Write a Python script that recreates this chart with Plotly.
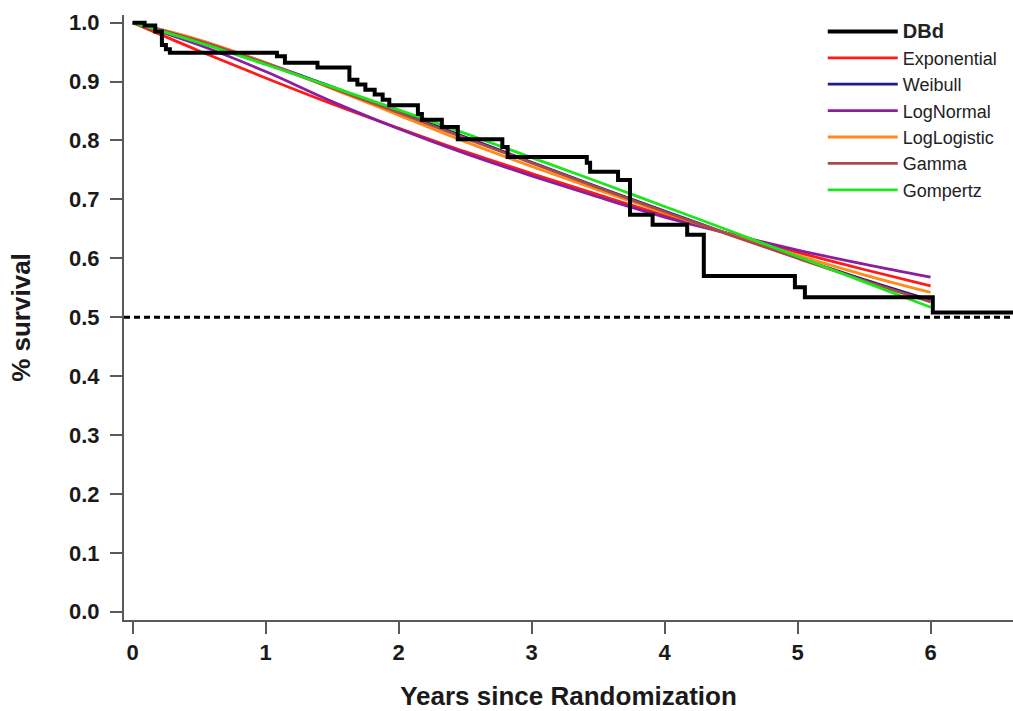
import plotly.graph_objects as go

# Kaplan-Meier (DBd) step curve
km_t = [0, 0.09, 0.17, 0.22, 0.25, 0.28, 1.085, 1.145, 1.39, 1.63, 1.69, 1.75, 1.82, 1.88,
        1.93, 2.145, 2.175, 2.325, 2.445, 2.78, 2.82, 3.415, 3.44, 3.65, 3.74, 3.91, 4.17,
        4.295, 4.98, 5.055, 6.017, 6.62]
km_s = [1.0, 0.995, 0.985, 0.962, 0.955, 0.949, 0.943, 0.932, 0.924, 0.903, 0.895, 0.886,
        0.878, 0.869, 0.860, 0.845, 0.835, 0.823, 0.802, 0.789, 0.772, 0.762, 0.747, 0.733,
        0.674, 0.657, 0.640, 0.570, 0.551, 0.534, 0.508, 0.508]

# Parametric fits, read at half-year points
fit_t = [0, 0.5, 1, 1.5, 2, 2.5, 3, 3.5, 4, 4.5, 5, 5.5, 6]
exponential = [1, 0.952, 0.906, 0.862, 0.821, 0.781, 0.744, 0.708, 0.673, 0.641, 0.610, 0.581, 0.553]
weibull = [1, 0.970, 0.932, 0.891, 0.849, 0.806, 0.763, 0.721, 0.680, 0.640, 0.601, 0.564, 0.529]
lognormal = [1, 0.962, 0.917, 0.866, 0.820, 0.778, 0.740, 0.704, 0.670, 0.641, 0.614, 0.590, 0.568]
loglogistic = [1, 0.971, 0.932, 0.888, 0.843, 0.798, 0.756, 0.716, 0.677, 0.640, 0.605, 0.572, 0.542]
gamma = [1, 0.969, 0.931, 0.889, 0.847, 0.804, 0.762, 0.720, 0.679, 0.639, 0.600, 0.562, 0.526]
gompertz = [1, 0.966, 0.929, 0.891, 0.852, 0.812, 0.771, 0.730, 0.688, 0.646, 0.603, 0.560, 0.517]

fit_names = ["Exponential", "Weibull", "LogNormal", "LogLogistic", "Gamma", "Gompertz"]
fit_values = [exponential, weibull, lognormal, loglogistic, gamma, gompertz]
fit_colors = ["#ff1a1a", "#1c1c8a", "#8a1e9e", "#ff8c1a", "#a84a48", "#1ee61e"]

ref_t = [-0.065, 6.62]
ref_s = [0.5, 0.5]

FONT = "Arial, Liberation Sans, sans-serif"

fig = go.Figure()

fig.add_trace(go.Scatter(x=ref_t, y=ref_s, mode="lines", showlegend=False,
                         line=dict(color="black", width=3, dash="6px,4px"), hoverinfo="skip"))

for i, (name, vals, col) in enumerate(zip(fit_names, fit_values, fit_colors)):
    fig.add_trace(go.Scatter(x=fit_t, y=vals, mode="lines", name=name,
                             line=dict(color=col, width=2.8, shape="spline"),
                             legendrank=i + 2))

fig.add_trace(go.Scatter(x=km_t, y=km_s, mode="lines",
                         name="<b><span style='font-size:20px'>DBd</span></b>",
                         line=dict(color="black", width=4, shape="hv"),
                         legendrank=1))

axis_common = dict(showline=True, linecolor="#5a5a5a", linewidth=2, ticks="outside",
                   tickcolor="#5a5a5a", tickwidth=2, ticklen=12, showgrid=False,
                   zeroline=False, automargin=False,
                   tickfont=dict(family=FONT, size=22, color="#1a1a1a", weight="bold"))

fig.update_layout(
    width=1013, height=711,
    margin=dict(l=124, r=0, t=15, b=91, autoexpand=False),
    paper_bgcolor="white", plot_bgcolor="white",
    font=dict(family=FONT, color="#1a1a1a"),
    xaxis=dict(range=[-0.065, 6.62], tickvals=[0, 1, 2, 3, 4, 5, 6],
               title=dict(text="Years since Randomization",
                          font=dict(family=FONT, size=26, weight="bold"), standoff=29),
               **axis_common),
    yaxis=dict(range=[-0.014, 1.013], tickvals=[0, 0.1, 0.2, 0.3, 0.4, 0.5, 0.6, 0.7, 0.8, 0.9, 1.0],
               tickformat=".1f", ticklabelstandoff=6,
               title=dict(text="% survival", font=dict(family=FONT, size=26, weight="bold"),
                          standoff=31),
               **axis_common),
    legend=dict(x=0.786, y=1.003, xanchor="left", yanchor="top", bgcolor="rgba(0,0,0,0)",
                font=dict(family=FONT, size=18, color="#222222"), itemwidth=70,
                tracegroupgap=0),
)

fig.write_html("out.html", config={"displayModeBar": False},
               post_script="document.body.style.margin='0';document.body.style.overflow='hidden';")
